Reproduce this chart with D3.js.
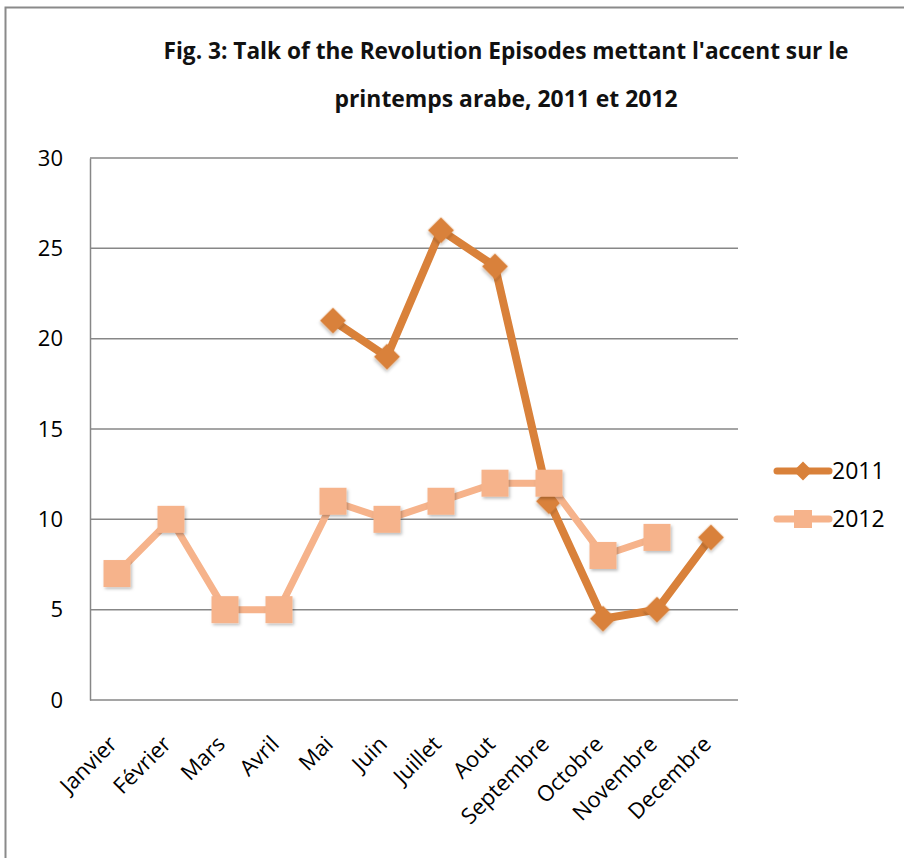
<!DOCTYPE html>
<html>
<head>
<meta charset="utf-8">
<script src="https://cdn.jsdelivr.net/npm/d3@7"></script>
<style>
  body { margin: 0; background: #fff; }
</style>
</head>
<body>
<svg width="904" height="858"></svg>
<script>
// chart data
const months = ["Janvier", "Février", "Mars", "Avril", "Mai", "Juin", "Juillet", "Aout", "Septembre", "Octobre", "Novembre", "Decembre"];
const values2011 = [null, null, null, null, 21, 19, 26, 24, 11, 4.5, 5, 9];
const values2012 = [7, 10, 5, 5, 11, 10, 11, 12, 12, 8, 9, null];
const yTicks = [0, 5, 10, 15, 20, 25, 30];
const titleLines = ["Fig. 3: Talk of the Revolution Episodes mettant l'accent sur le", "printemps arabe, 2011 et 2012"];
const titleWidths = [685, 343];

const c2011 = "#d9813a";
const c2012 = "#f6b38b";

// plot area
const plotLeft = 90, plotRight = 738, plotTop = 158, plotBottom = 700;
const svg = d3.select("svg");

// drop shadow for the markers
const defs = svg.append("defs");
const f = defs.append("filter").attr("id", "shadow").attr("x", "-50%").attr("y", "-50%").attr("width", "200%").attr("height", "200%");
f.append("feDropShadow").attr("dx", 1.5).attr("dy", 2).attr("stdDeviation", 1.5).attr("flood-color", "#000").attr("flood-opacity", 0.25);

// outer frame
svg.append("rect")
  .attr("x", 5.5).attr("y", 7.5).attr("width", 920).attr("height", 900)
  .attr("fill", "none").attr("stroke", "#8a8a8a").attr("stroke-width", 2);

// title
svg.append("g").selectAll("text")
  .data(titleLines)
  .enter()
  .append("text")
  .attr("x", 506)
  .attr("y", (d, i) => 59 + i * 48)
  .attr("text-anchor", "middle")
  .attr("font-family", "'Open Sans', sans-serif")
  .attr("font-weight", "bold")
  .attr("font-size", 24)
  .attr("textLength", (d, i) => titleWidths[i])
  .attr("lengthAdjust", "spacingAndGlyphs")
  .attr("fill", "#111")
  .text(d => d);

// scales
const xScale = d3.scaleBand().domain(months).range([plotLeft, plotRight]);
const yScale = d3.scaleLinear().domain([0, 30]).range([plotBottom, plotTop]);
const xc = d => xScale(d) + xScale.bandwidth() / 2;

// gridlines
svg.append("g")
  .selectAll("line")
  .data(yTicks)
  .enter()
  .append("line")
  .attr("x1", plotLeft).attr("x2", plotRight)
  .attr("y1", d => yScale(d)).attr("y2", d => yScale(d))
  .attr("stroke", "#878787").attr("stroke-width", 1.5);

// y axis
const yAxis = svg.append("g")
  .attr("transform", "translate(" + plotLeft + ",0)")
  .call(d3.axisLeft(yScale).tickValues(yTicks).tickSize(0).tickPadding(27));
yAxis.select(".domain").attr("stroke", "#878787").attr("stroke-width", 1.5);
yAxis.selectAll("text")
  .attr("font-family", "'Open Sans', sans-serif")
  .attr("font-size", 22)
  .attr("fill", "#000");

// x axis labels (rotated)
svg.append("g")
  .selectAll("text")
  .data(months)
  .enter()
  .append("text")
  .attr("transform", d => "translate(" + (xc(d) - 4) + "," + 740 + ") rotate(-45)")
  .attr("text-anchor", "end")
  .attr("dy", "0.35em")
  .attr("font-family", "'Open Sans', sans-serif")
  .attr("font-size", 22)
  .attr("fill", "#000")
  .text(d => d);

// series
const line = d3.line()
  .defined(d => d[1] != null)
  .x(d => xc(d[0]))
  .y(d => yScale(d[1]));

const data2011 = months.map((m, i) => [m, values2011[i]]);
const data2012 = months.map((m, i) => [m, values2012[i]]);

svg.append("path")
  .datum(data2011)
  .attr("d", line)
  .attr("fill", "none")
  .attr("stroke", c2011)
  .attr("stroke-width", 8)
  .attr("stroke-linejoin", "round");

svg.append("g")
  .selectAll("path")
  .data(data2011.filter(d => d[1] != null))
  .enter()
  .append("path")
  .attr("d", d3.symbol(d3.symbolSquare, 340))
  .attr("transform", d => "translate(" + xc(d[0]) + "," + yScale(d[1]) + ") rotate(45)")
  .attr("fill", c2011)
  .attr("filter", "url(#shadow)");

svg.append("path")
  .datum(data2012)
  .attr("d", line)
  .attr("fill", "none")
  .attr("stroke", c2012)
  .attr("stroke-width", 7)
  .attr("stroke-linejoin", "round");

svg.append("g")
  .selectAll("rect")
  .data(data2012.filter(d => d[1] != null))
  .enter()
  .append("rect")
  .attr("x", d => xc(d[0]) - 13.5)
  .attr("y", d => yScale(d[1]) - 13.5)
  .attr("width", 27)
  .attr("height", 27)
  .attr("fill", c2012)
  .attr("filter", "url(#shadow)");

// legend
const legend = svg.append("g");
const legendItems = [
  { name: "2011", color: c2011, y: 471 },
  { name: "2012", color: c2012, y: 519 }
];
legendItems.forEach(item => {
  legend.append("line")
    .attr("x1", 777).attr("x2", 829)
    .attr("y1", item.y).attr("y2", item.y)
    .attr("stroke", item.color).attr("stroke-width", 7)
    .attr("stroke-linecap", "round");
  legend.append("text")
    .attr("x", 832).attr("y", item.y + 8)
    .attr("font-family", "'Open Sans', sans-serif")
    .attr("font-size", 23)
    .attr("fill", "#000")
    .text(item.name);
});
legend.append("path")
  .attr("d", d3.symbol(d3.symbolSquare, 180))
  .attr("transform", "translate(803,471) rotate(45)")
  .attr("fill", c2011);
legend.append("rect")
  .attr("x", 794).attr("y", 510).attr("width", 18).attr("height", 18)
  .attr("fill", c2012);
</script>
</body>
</html>
